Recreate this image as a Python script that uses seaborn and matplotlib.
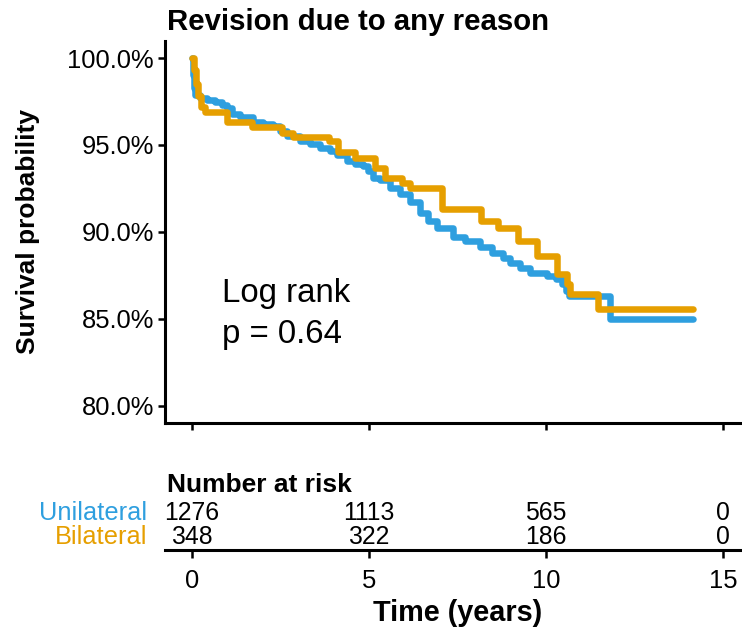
import numpy as np
import pandas as pd
import matplotlib
matplotlib.use("Agg")
import matplotlib.pyplot as plt
import seaborn as sns
from matplotlib.ticker import FuncFormatter

# ---- data ----
groups = ["Unilateral", "Bilateral"]
colors = ["#2E9FDF", "#E69F00"]

uni_time = [0.0, 0.03, 0.06, 0.08, 0.23, 0.42, 0.65, 0.85, 0.99, 1.13, 1.36, 1.72,
            2.01, 2.29, 2.49, 2.68, 3.05, 3.33, 3.62, 3.90, 4.10, 4.38, 4.60, 4.83,
            4.97, 5.11, 5.31, 5.59, 5.88, 6.16, 6.44, 6.67, 6.92, 7.37, 7.71, 8.14,
            8.47, 8.79, 8.98, 9.27, 9.55, 10.03, 10.28, 10.45, 10.56, 10.65, 11.81, 14.15]
uni_surv = [100.0, 99.0, 98.3, 97.9, 97.7, 97.6, 97.45, 97.3, 97.15, 96.8, 96.6, 96.3,
            96.2, 96.1, 95.8, 95.5, 95.2, 95.05, 94.85, 94.65, 94.45, 94.1, 93.9, 93.8,
            93.5, 93.1, 93.0, 92.5, 92.2, 91.7, 91.1, 90.6, 90.2, 89.7, 89.5, 89.1,
            88.8, 88.5, 88.2, 87.9, 87.65, 87.45, 87.3, 87.0, 86.6, 86.3, 85.0, 85.0]

bil_time = [0.0, 0.06, 0.11, 0.17, 0.25, 0.37, 0.99, 1.69, 2.54, 2.85, 3.87, 4.12,
            4.60, 5.17, 5.45, 5.93, 6.16, 7.06, 8.16, 8.64, 9.21, 9.75, 10.31, 10.59,
            10.68, 11.47, 14.15]
bil_surv = [100.0, 99.3, 98.5, 97.8, 97.2, 96.9, 96.3, 96.05, 95.7, 95.45, 95.2, 94.6,
            94.25, 93.7, 93.1, 92.8, 92.5, 91.3, 90.65, 90.25, 89.45, 88.6, 87.55, 87.0,
            86.4, 85.55, 85.55]

risk_times = [0, 5, 10, 15]
risk_uni = [1276, 1113, 565, 0]
risk_bil = [348, 322, 186, 0]

y_ticks = [80, 85, 90, 95, 100]
x_ticks = [0, 5, 10, 15]

df = pd.concat([
    pd.DataFrame({"time": uni_time, "surv": uni_surv, "group": groups[0]}),
    pd.DataFrame({"time": bil_time, "surv": bil_surv, "group": groups[1]}),
], ignore_index=True)

# ---- figure ----
sns.set_style("white")
plt.rcParams["font.family"] = ["Liberation Sans", "DejaVu Sans"]
plt.rcParams["text.color"] = "black"
plt.rcParams["xtick.color"] = "black"
plt.rcParams["ytick.color"] = "black"

W, H = 742, 630
fig = plt.figure(figsize=(W / 100, H / 100), dpi=100)

def fx(px):
    return px / W

def fy(py):
    return 1 - py / H

ax = fig.add_axes([fx(165), fy(423), fx(742 - 165), (423 - 40.7) / H])
sns.lineplot(data=df, x="time", y="surv", hue="group", palette=colors,
             hue_order=groups, estimator=None, sort=False,
             drawstyle="steps-post", linewidth=4.7, ax=ax, legend=False)

x0, x1 = -0.763, 15.54
ax.set_xlim(x0, x1)
ax.set_ylim(79.0, 101.0)
ax.set_yticks(y_ticks)
ax.yaxis.set_major_formatter(FuncFormatter(lambda v, p: f"{v:.1f}%"))
ax.set_xticks(x_ticks)
ax.set_xticklabels([])
ax.set_xlabel("")
ax.set_ylabel("")
for s in ["top", "right"]:
    ax.spines[s].set_visible(False)
for s in ["left", "bottom"]:
    ax.spines[s].set_linewidth(2.2)
    ax.spines[s].set_color("black")
ax.tick_params(axis="both", direction="out", length=5, width=1.8, color="black",
               labelsize=18.4, labelcolor="black", pad=3, bottom=True, left=True)

ax.text(0.85, 86.44, "Log rank", fontsize=23.8, va="center", ha="left")
ax.text(0.85, 84.1, "p = 0.64", fontsize=23.8, va="center", ha="left")

fig.text(fx(167), fy(22), "Revision due to any reason", fontsize=21.2,
         fontweight="bold", ha="left", va="center")
fig.text(fx(28), fy(232), "Survival probability", fontsize=19, fontweight="bold",
         rotation=90, ha="center", va="center")

# ---- risk table ----
ax2 = fig.add_axes([fx(165), fy(550), fx(742 - 165), 52 / H])
ax2.set_xlim(x0, x1)
ax2.set_ylim(0, 52)
for s in ["top", "right", "left"]:
    ax2.spines[s].set_visible(False)
ax2.spines["bottom"].set_linewidth(2.2)
ax2.spines["bottom"].set_color("black")
ax2.set_yticks([])
ax2.set_xticks(x_ticks)
ax2.set_xticklabels([str(t) for t in x_ticks])
ax2.tick_params(axis="x", direction="out", length=6, width=1.8, color="black",
                labelsize=18.4, labelcolor="black", pad=8, bottom=True)
ax2.set_facecolor("none")

for t, u, b in zip(risk_times, risk_uni, risk_bil):
    ax2.text(t, 37, str(u), fontsize=17.8, ha="center", va="center")
    ax2.text(t, 13, str(b), fontsize=17.8, ha="center", va="center")
ax2.text(-1.27, 37, groups[0], fontsize=18.3, ha="right", va="center",
         color=colors[0], clip_on=False)
ax2.text(-1.27, 13, groups[1], fontsize=18.3, ha="right", va="center",
         color=colors[1], clip_on=False)

fig.text(fx(167), fy(485), "Number at risk", fontsize=19, fontweight="bold",
         ha="left", va="center")
fig.text(fx(458), fy(613), "Time (years)", fontsize=20.8, fontweight="bold",
         ha="center", va="center")

fig.savefig("out.png", dpi=100)
